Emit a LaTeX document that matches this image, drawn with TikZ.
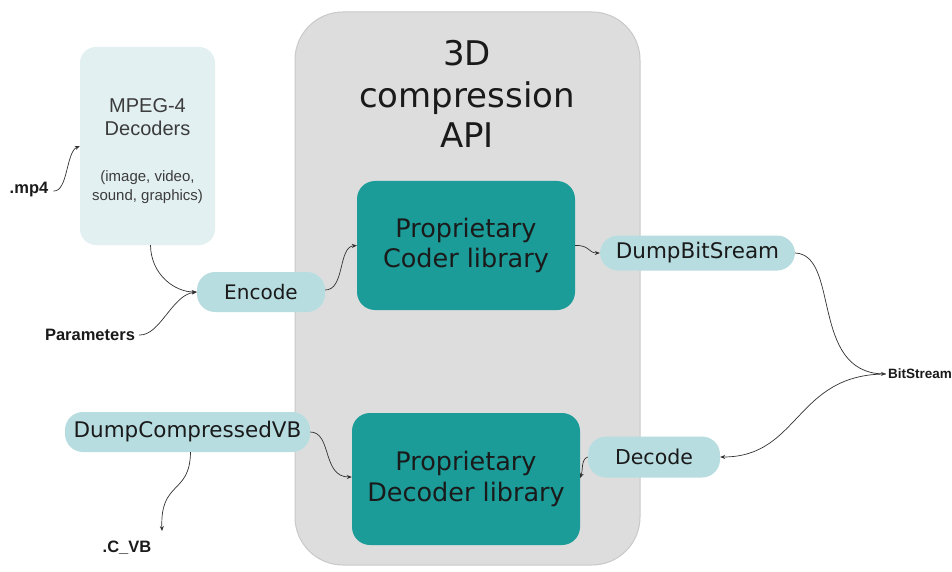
\documentclass[tikz,border=0pt]{standalone}
\usepackage{fontspec}
\setmainfont{Liberation Sans}
\newfontfamily\verd{DejaVu Sans}
\usetikzlibrary{arrows.meta,calc}
\definecolor{apigray}{HTML}{DDDDDD}
\definecolor{apiborder}{HTML}{C9C9C9}
\definecolor{lightbox}{HTML}{E3F0F2}
\definecolor{tealbox}{HTML}{1B9C99}
\definecolor{pillc}{HTML}{B7DDE1}
\definecolor{txt}{HTML}{1A1A1A}
\tikzset{
  apibox/.style={draw=apiborder, line width=1pt, fill=apigray, rounded corners=48pt, minimum width=345pt, minimum height=553pt, inner sep=0pt},
  mpegbox/.style={fill=lightbox, rounded corners=16pt, minimum width=135pt, minimum height=198pt, inner sep=0pt},
  libbox/.style={fill=tealbox, rounded corners=18pt, inner sep=0pt, align=center, text=txt, font=\verd\fontsize{25.5}{30.5}\selectfont},
  pill/.style={fill=pillc, rounded corners=18pt, inner sep=0pt, text=txt, font=\verd\fontsize{20}{22}\selectfont},
  lbl/.style={font=\bfseries\fontsize{16.5}{18}\selectfont, text=txt, inner sep=2pt},
  conn/.style={draw=txt!90, line width=0.7pt, -{Stealth[length=5pt,width=4pt]}}
}
\begin{document}
\begin{tikzpicture}[x=1pt,y=-1pt]
\useasboundingbox (0,0) rectangle (952,572);
\fill[white] (0,0) rectangle (952,572);
% API container
\node[apibox] (api) at (467.5,288.5) {};
\node[font=\verd\fontsize{34}{42}\selectfont, text=txt, align=center, inner sep=0pt] (title) at (467,94) {3D\\compression\\[-2pt]API};
% MPEG-4 box
\node[mpegbox] (mpeg) at (147.5,146) {};
\node[font=\fontsize{20}{23}\selectfont, text=txt!85, align=center, inner sep=0pt] (mpegt) at (147.5,117) {MPEG-4\\Decoders};
\node[font=\fontsize{15}{18.5}\selectfont, text=txt!85, align=center, inner sep=0pt] (mpegs) at (147.5,187) {(image, video,\\sound, graphics)};
% libraries
\node[libbox, minimum width=218pt, minimum height=129pt] (coder) at (466,245.5) {Proprietary\\Coder library};
\node[libbox, minimum width=228pt, minimum height=132pt] (decoder) at (466,479) {Proprietary\\Decoder library};
% pills
\node[pill, minimum width=128pt, minimum height=40pt] (encode) at (261,292) {Encode};
\node[pill, minimum width=195pt, minimum height=35pt, font=\verd\fontsize{21.5}{24}\selectfont] (dumpbit) at (697.5,253) {DumpBitSream};
\node[pill, minimum width=132pt, minimum height=41pt, font=\verd\fontsize{20.5}{24}\selectfont] (decode) at (654,457) {Decode};
\node[pill, minimum width=245pt, minimum height=40pt, font=\verd\fontsize{21.5}{24}\selectfont] (dumpcvb) at (187.5,432) {DumpCompressedVB};
% labels
\node[lbl] (mp4) at (29,190) {.mp4};
\node[lbl] (params) at (90,335) {Parameters};
\node[lbl, font=\bfseries\fontsize{13.5}{15}\selectfont] (bits) at (920,374) {BitStream};
\node[lbl] (cvb) at (127,548) {.C\_VB};
\coordinate (cvbtop) at (162,531);
% connectors
\draw[conn] (mp4.east) ++(3,1) .. controls (68,192) and (66,152) .. (mpeg.west);
\draw[conn] (mpeg.south) ++(3,0) .. controls (151,275) and (175,292) .. (encode.west);
\draw[conn] (params.east) ++(2,0) .. controls (160,336) and (172,295) .. (encode.west);
\draw[conn] (encode.east) ++(0,-2) .. controls (345,290) and (338,247) .. (coder.west);
\draw[conn] (coder.east) .. controls (590,245) and (588,253) .. (dumpbit.west);
\draw[conn] (dumpbit.east) .. controls (840,255) and (810,372) .. (bits.west);
\draw[conn] (bits.west) .. controls (795,374) and (800,457) .. (decode.east);
\draw[conn] (decode.west) .. controls (581,459) and (583,470) .. ($(decoder.east)+(0,-1)$);
\draw[conn] (dumpcvb.east) .. controls (332,432) and (322,477) .. ($(decoder.west)+(0,-2)$);
\draw[conn] (dumpcvb.south) ++(3,0) .. controls (190,495) and (160,480) .. (cvbtop);
\end{tikzpicture}
\end{document}
